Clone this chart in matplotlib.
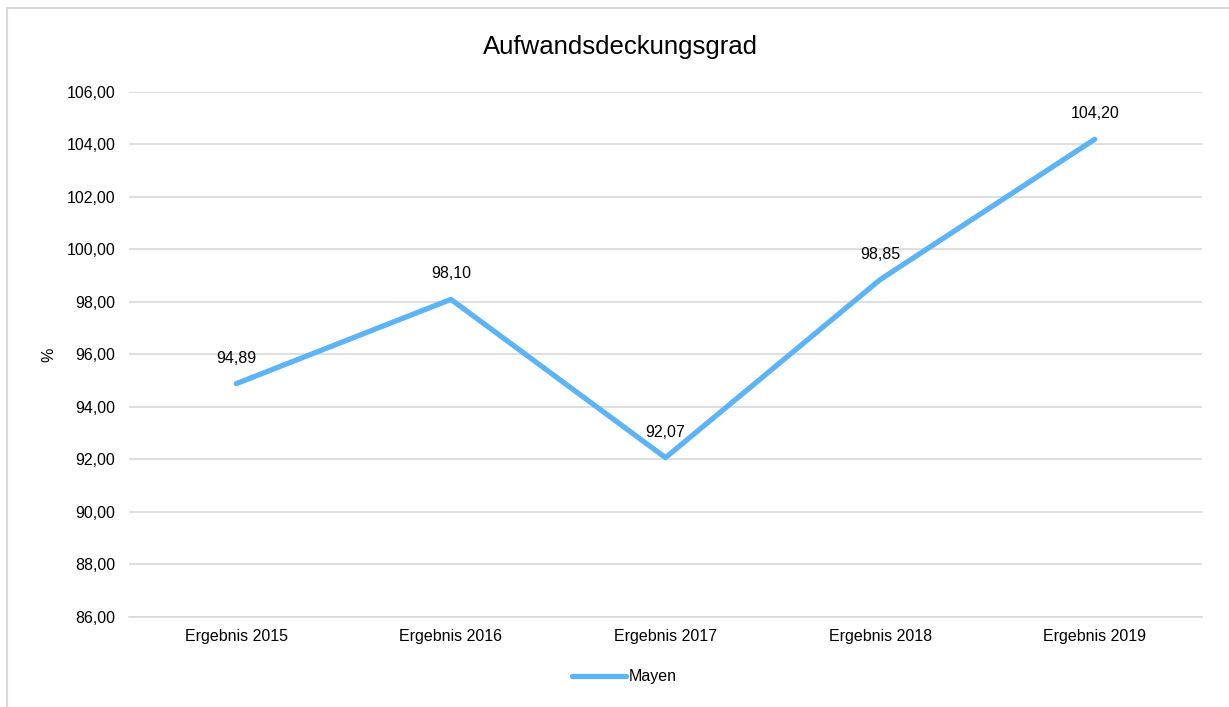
import matplotlib.pyplot as plt
from matplotlib.patches import Rectangle

plt.rcParams['font.family'] = ['Liberation Sans', 'DejaVu Sans']

# data
categories = ['Ergebnis 2015', 'Ergebnis 2016', 'Ergebnis 2017', 'Ergebnis 2018', 'Ergebnis 2019']
mayen = [94.89, 98.10, 92.07, 98.85, 104.20]
yticks = [86, 88, 90, 92, 94, 96, 98, 100, 102, 104, 106]

line_color = '#5DB4F5'
grid_color = '#D9D9D9'
fs = 11.5

fig = plt.figure(figsize=(12.29, 7.07), dpi=100)
ax = fig.add_axes([0.105, 0.1273, 0.873, 0.7426])

# outer chart frame (only top and left visible)
fig.patches.append(Rectangle((7 / 1229, -0.1), 1.2, 1 - 8 / 707 + 0.1,
                             transform=fig.transFigure, fill=False,
                             edgecolor=grid_color, linewidth=1.5))

x = range(len(categories))
ax.plot(x, mayen, color=line_color, linewidth=3.8, solid_capstyle='round',
        label='Mayen', zorder=3)

for xi, v in zip(x, mayen):
    ax.annotate(f'{v:.2f}'.replace('.', ','), (xi, v), xytext=(0, 13),
                textcoords='offset points', ha='center', va='bottom',
                fontsize=fs, color='#000000')

ax.set_xlim(-0.5, len(categories) - 0.5)
ax.set_ylim(86, 106)
ax.set_yticks(yticks)
ax.set_yticklabels([f'{t:.2f}'.replace('.', ',') for t in yticks], fontsize=fs)
ax.set_xticks(list(x))
ax.set_xticklabels(categories, fontsize=fs)
ax.tick_params(length=0, pad=9)
ax.tick_params(axis='y', pad=10)
ax.grid(axis='y', color=grid_color, linewidth=1.2)
ax.set_axisbelow(True)
for s in ['top', 'right', 'left']:
    ax.spines[s].set_visible(False)
ax.spines['bottom'].set_color(grid_color)
ax.spines['bottom'].set_linewidth(1.2)

ax.set_ylabel('%', fontsize=fs)
ax.yaxis.set_label_coords((56 - 129) / 1073, 0.5)

fig.text(620 / 1229, 1 - 47 / 707, 'Aufwandsdeckungsgrad', ha='center', va='center',
         fontsize=18.5)

fig.legend(handles=ax.get_lines(), loc='center', bbox_to_anchor=(624 / 1229, 1 - 677 / 707),
           frameon=False, fontsize=fs, handlelength=3.4, handletextpad=0.15)

fig.savefig('out.png', dpi=100)
